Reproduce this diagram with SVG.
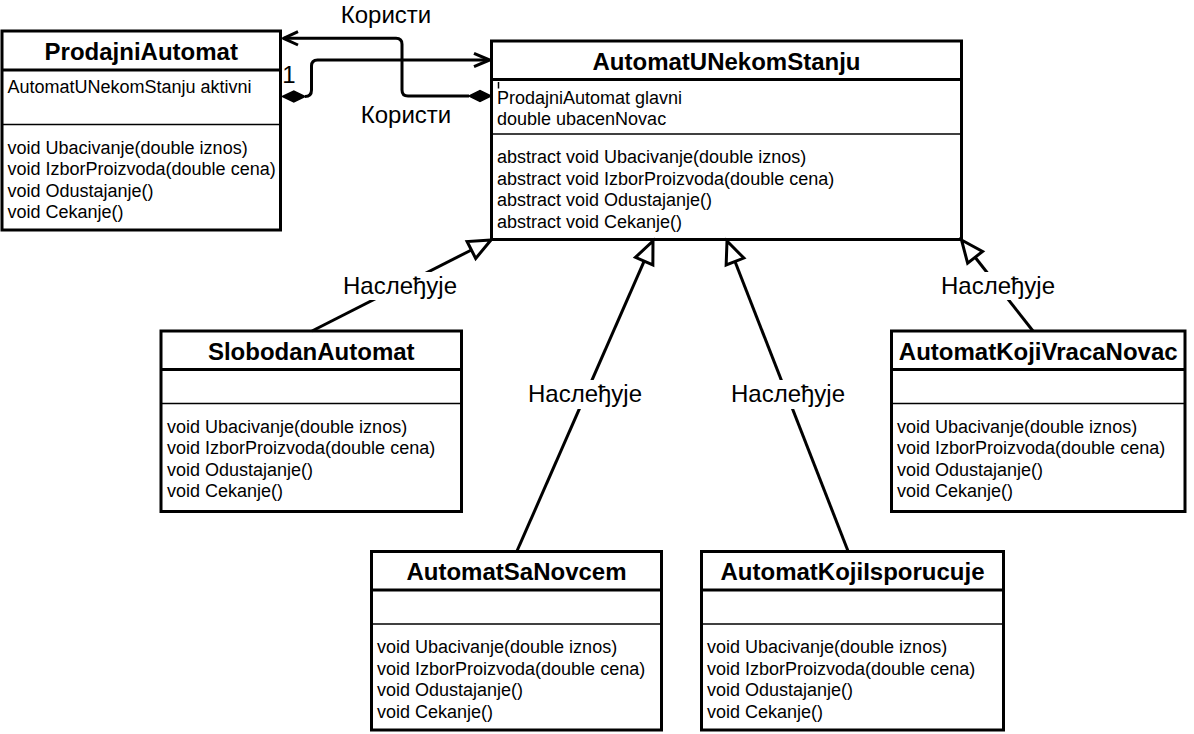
<svg xmlns="http://www.w3.org/2000/svg" width="1194" height="734" viewBox="0 0 1194 734">
<style>
.box{fill:#fff;stroke:#000;stroke-width:3}
.hd{stroke:#000;stroke-width:3}
.sep{stroke:#000;stroke-width:1.5}
.title{font-family:"Liberation Sans",Arial,Helvetica,sans-serif;font-weight:bold;font-size:24px;text-anchor:middle;fill:#000}
.txt{font-family:"Liberation Sans",Arial,Helvetica,sans-serif;font-size:18px;fill:#000}
.lbl{font-family:"Liberation Sans",Arial,Helvetica,sans-serif;font-size:24px;text-anchor:middle;fill:#000}
.edge{fill:none;stroke:#000;stroke-width:3;stroke-linejoin:round}
.tri{fill:#fff;stroke:#000;stroke-width:3;stroke-linejoin:miter}
.dia{fill:#000;stroke:#000;stroke-width:1.5}
.bg{fill:#fff}
</style>
<rect width="1194" height="734" fill="#fff"/>

<g id="ProdajniAutomat">
<rect class="box" x="2" y="31" width="278.5" height="199"/>
<line class="hd" x1="2" y1="70" x2="280.5" y2="70"/>
<line class="sep" x1="2" y1="124.5" x2="280.5" y2="124.5"/>
<text class="title" x="141.25" y="60">ProdajniAutomat</text>
<text class="txt" x="7.5" y="93">AutomatUNekomStanju aktivni</text>
<text class="txt" x="7.5" y="153.5">void Ubacivanje(double iznos)</text>
<text class="txt" x="7.5" y="175.1">void IzborProizvoda(double cena)</text>
<text class="txt" x="7.5" y="196.7">void Odustajanje()</text>
<text class="txt" x="7.5" y="218.3">void Cekanje()</text>
</g>

<g id="AutomatUNekomStanju">
<rect class="box" x="491.5" y="41" width="470" height="198.5"/>
<line class="hd" x1="491.5" y1="79.5" x2="961.5" y2="79.5"/>
<line class="sep" x1="491.5" y1="134" x2="961.5" y2="134"/>
<text class="title" x="726.5" y="70">AutomatUNekomStanju</text>
<text class="txt" x="497" y="103.5">ProdajniAutomat glavni</text>
<text class="txt" x="497" y="125">double ubacenNovac</text>
<text class="txt" x="497" y="163">abstract void Ubacivanje(double iznos)</text>
<text class="txt" x="497" y="184.6">abstract void IzborProizvoda(double cena)</text>
<text class="txt" x="497" y="206.2">abstract void Odustajanje()</text>
<text class="txt" x="497" y="227.8">abstract void Cekanje()</text>
</g>

<g id="SlobodanAutomat">
<rect class="box" x="161" y="331" width="300.5" height="180.5"/>
<line class="hd" x1="161" y1="369.5" x2="461.5" y2="369.5"/>
<line class="sep" x1="161" y1="403.5" x2="461.5" y2="403.5"/>
<text class="title" x="311.25" y="359.5">SlobodanAutomat</text>
<text class="txt" x="167" y="432.5">void Ubacivanje(double iznos)</text>
<text class="txt" x="167" y="454.1">void IzborProizvoda(double cena)</text>
<text class="txt" x="167" y="475.7">void Odustajanje()</text>
<text class="txt" x="167" y="497.3">void Cekanje()</text>
</g>

<g id="AutomatKojiVracaNovac">
<rect class="box" x="891.5" y="331" width="293.5" height="180.5"/>
<line class="hd" x1="891.5" y1="369.5" x2="1185" y2="369.5"/>
<line class="sep" x1="891.5" y1="403.5" x2="1185" y2="403.5"/>
<text class="title" x="1038.25" y="359.5">AutomatKojiVracaNovac</text>
<text class="txt" x="897" y="432.5">void Ubacivanje(double iznos)</text>
<text class="txt" x="897" y="454.1">void IzborProizvoda(double cena)</text>
<text class="txt" x="897" y="475.7">void Odustajanje()</text>
<text class="txt" x="897" y="497.3">void Cekanje()</text>
</g>

<g id="AutomatSaNovcem">
<rect class="box" x="371.5" y="551.5" width="290" height="178.5"/>
<line class="hd" x1="371.5" y1="590" x2="661.5" y2="590"/>
<line class="sep" x1="371.5" y1="624" x2="661.5" y2="624"/>
<text class="title" x="516.5" y="580">AutomatSaNovcem</text>
<text class="txt" x="377" y="653">void Ubacivanje(double iznos)</text>
<text class="txt" x="377" y="674.6">void IzborProizvoda(double cena)</text>
<text class="txt" x="377" y="696.2">void Odustajanje()</text>
<text class="txt" x="377" y="717.8">void Cekanje()</text>
</g>

<g id="AutomatKojiIsporucuje">
<rect class="box" x="701.5" y="551.5" width="302" height="178.5"/>
<line class="hd" x1="701.5" y1="590" x2="1003.5" y2="590"/>
<line class="sep" x1="701.5" y1="624" x2="1003.5" y2="624"/>
<text class="title" x="852.5" y="580">AutomatKojiIsporucuje</text>
<text class="txt" x="707" y="653">void Ubacivanje(double iznos)</text>
<text class="txt" x="707" y="674.6">void IzborProizvoda(double cena)</text>
<text class="txt" x="707" y="696.2">void Odustajanje()</text>
<text class="txt" x="707" y="717.8">void Cekanje()</text>
</g>

<g id="connectors">
<path class="edge" d="M469 96 H408 Q402 96 402 90 V44.3 Q402 38.3 396 38.3 H284"/>
<path class="edge" d="M298 31.6 L283.5 38.3 L298 45"/>
<polygon class="dia" points="491,96 480,90.5 469,96 480,101.5"/>
<text class="lbl" x="386" y="23">Користи</text>
<path class="edge" d="M305 96.5 Q311.5 96.5 311.5 90 V66 Q311.5 60 317.5 60 H488"/>
<path class="edge" d="M474 53.3 L489.5 60 L474 66.7"/>
<polygon class="dia" points="282.5,96.5 293.8,91 305,96.5 293.8,102"/>
<text class="lbl" x="406" y="123">Користи</text>
<text class="lbl" x="289" y="83">1</text>
<line class="sep" x1="498.5" y1="82" x2="498.5" y2="88.5"/>

<path class="edge" d="M312 331 L471.39 249.97"/>
<polygon class="tri" points="491,240 475.7,258.44 467.08,241.5"/>
<rect class="bg" x="342" y="272" width="116" height="28"/>
<text class="lbl" x="400" y="293.5">Наслеђује</text>

<path class="edge" d="M517 551 L644.16 261.15"/>
<polygon class="tri" points="653,241 652.86,264.97 635.46,257.33"/>
<rect class="bg" x="527" y="380" width="116" height="29"/>
<text class="lbl" x="585" y="402">Наслеђује</text>

<path class="edge" d="M848 551 L735 261.49"/>
<polygon class="tri" points="727,241 743.85,258.04 726.15,264.94"/>
<rect class="bg" x="730" y="380" width="116" height="29"/>
<text class="lbl" x="788" y="402">Наслеђује</text>

<path class="edge" d="M1033 331 L975.1 257.3"/>
<polygon class="tri" points="961.5,240 982.57,251.43 967.63,263.17"/>
<rect class="bg" x="940" y="272" width="116" height="28"/>
<text class="lbl" x="998" y="293.5">Наслеђује</text>
</g>
</svg>
